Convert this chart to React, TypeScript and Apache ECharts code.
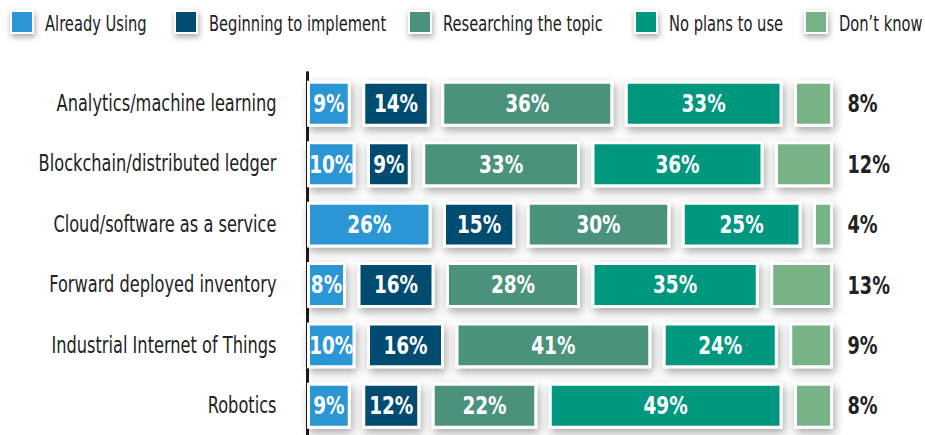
import React, { useEffect, useRef } from "react";
import * as echarts from "echarts";

const categories = [
  "Analytics/machine learning",
  "Blockchain/distributed ledger",
  "Cloud/software as a service",
  "Forward deployed inventory",
  "Industrial Internet of Things",
  "Robotics",
];
const seriesNames = [
  "Already Using",
  "Beginning to implement",
  "Researching the topic",
  "No plans to use",
  "Don\u2019t know",
];
const alreadyUsing = [9, 10, 26, 8, 10, 9];
const beginning = [14, 9, 15, 16, 16, 12];
const researching = [36, 33, 30, 28, 41, 22];
const noPlans = [33, 36, 25, 35, 24, 49];
const dontKnow = [8, 12, 4, 13, 9, 8];

const allSeries = [alreadyUsing, beginning, researching, noPlans, dontKnow];
const colors = ["#2a96d4", "#064b6f", "#4b927b", "#00977f", "#78b387"];
const legendLefts = [10, 174, 408, 634, 804];

const GAP = 12.5;
const FONT = "'DejaVu Sans', sans-serif";
const SHADOW = {
  shadowBlur: 10,
  shadowColor: "rgba(0,0,0,0.35)",
  shadowOffsetX: 2,
  shadowOffsetY: 4,
};

function makeRender(si: number, outside: boolean, color: string) {
  return (params: any, api: any) => {
    const v = api.value(0);
    const c = api.value(1);
    const s = api.value(2);
    const p0 = api.coord([s, c]);
    const p1 = api.coord([s + v, c]);
    const band = api.size([0, 1])[1];
    const h = band * 0.71;
    const x = p0[0] + si * GAP;
    const w = p1[0] - p0[0];
    const y = p0[1] - h / 2;
    const label = v + "%";
    const children: any[] = [
      {
        type: "rect",
        shape: { x: x + 1, y: y + 1, width: w - 2, height: h },
        style: {
          fill: color,
          stroke: "#ffffff",
          lineWidth: 3,
          ...SHADOW,
        },
      },
      {
        type: "text",
        x: outside ? x + w + 15 : x + w / 2,
        y: p0[1] + 1,
        scaleX: outside ? 0.74 : 0.77,
        style: {
          text: label,
          fill: outside ? "#222222" : "#ffffff",
          fontSize: 24,
          fontWeight: "bold",
          fontFamily: FONT,
          align: outside ? "left" : "center",
          verticalAlign: "middle",
        },
      },
    ];
    if (si === 0) {
      children.push({
        type: "text",
        x: p0[0] - 31,
        y: p0[1],
        scaleX: 0.69,
        style: {
          text: categories[c],
          fill: "#222222",
          fontSize: 23.5,
          fontFamily: FONT,
          align: "right",
          verticalAlign: "middle",
        },
      });
    }
    return { type: "group", children };
  };
}

export default function App() {
  const ref = useRef<HTMLDivElement>(null);
  useEffect(() => {
    if (!ref.current) return;
    const chart = echarts.init(ref.current, undefined, { renderer: "svg" });
    const series = allSeries.map((vals, si) => {
      const data = vals.map((v, i) => {
        let start = 0;
        for (let k = 0; k < si; k++) start += allSeries[k][i];
        return [v, i, start];
      });
      return {
        type: "custom",
        name: seriesNames[si],
        itemStyle: { color: colors[si] },
        renderItem: makeRender(si, si === allSeries.length - 1, colors[si]),
        encode: { x: 0, y: 1 },
        data,
      };
    });
    const legendGraphics = seriesNames.map((name, i) => ({
      type: "group",
      left: legendLefts[i],
      top: 10,
      children: [
        {
          type: "rect",
          shape: { x: 1, y: 1, width: 22, height: 22 },
          style: {
            fill: colors[i],
            stroke: "#ffffff",
            lineWidth: 2,
            shadowBlur: 6,
            shadowColor: "rgba(0,0,0,0.35)",
            shadowOffsetX: 1,
            shadowOffsetY: 3,
          },
        },
        {
          type: "text",
          x: 35,
          y: 13,
          scaleX: 0.7,
          style: {
            text: name,
            fill: "#222222",
            fontSize: 21,
            fontFamily: FONT,
            align: "left",
            verticalAlign: "middle",
          },
        },
      ],
    }));
    chart.setOption({
      animation: false,
      backgroundColor: "#ffffff",
      graphic: legendGraphics,
      grid: { left: 307.5, top: 72.6, width: 475, height: 370.8 },
      xAxis: {
        type: "value",
        min: 0,
        max: 100,
        show: false,
      },
      yAxis: {
        type: "category",
        data: categories,
        inverse: true,
        offset: 14,
        axisLine: { show: true, lineStyle: { color: "#1a1a1a", width: 3 } },
        axisTick: { show: false },
        axisLabel: { show: false },
        splitLine: { show: false },
      },
      series,
    });
    return () => chart.dispose();
  }, []);
  return (
    <div
      ref={ref}
      style={{ position: "fixed", left: 0, top: 0, width: 925, height: 435 }}
    />
  );
}
